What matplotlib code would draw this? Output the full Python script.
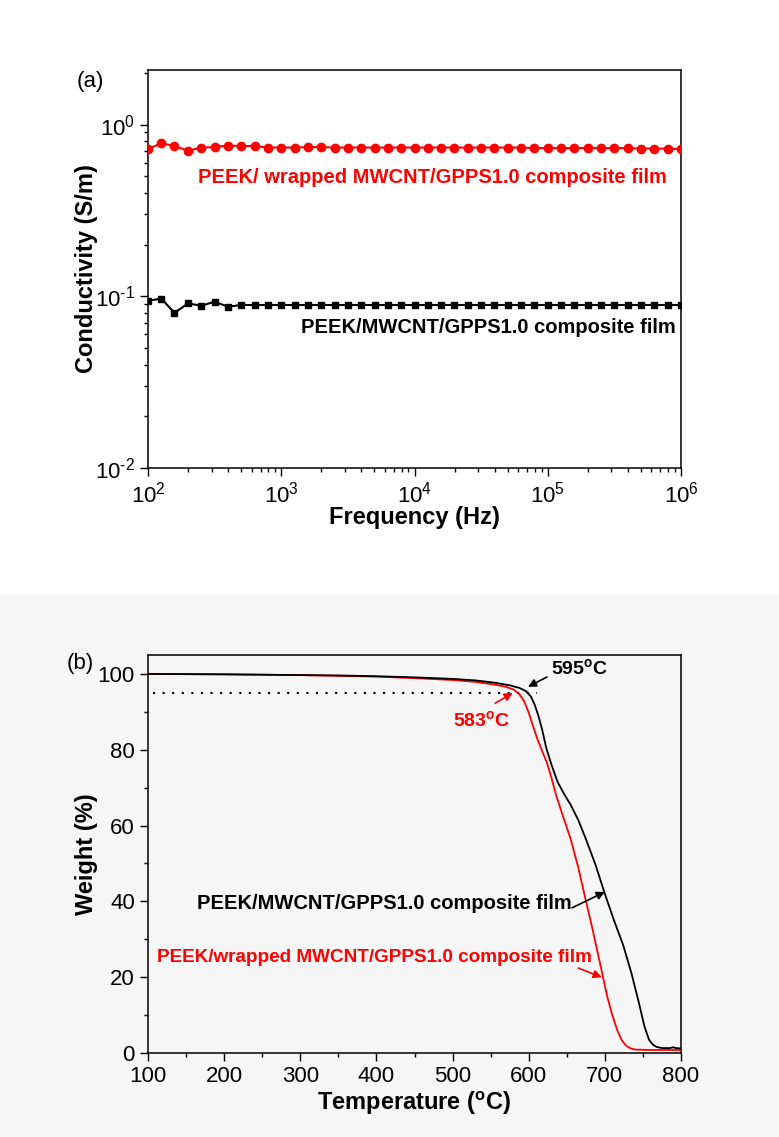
import matplotlib
matplotlib.use('Agg')
import matplotlib.pyplot as plt
import matplotlib.ticker as ticker
import numpy as np
from matplotlib.patches import Rectangle

plt.rcParams['font.family'] = ['Liberation Sans', 'DejaVu Sans']
plt.rcParams['mathtext.fontset'] = 'custom'
plt.rcParams['mathtext.rm'] = 'Liberation Sans'
plt.rcParams['mathtext.bf'] = 'Liberation Sans:bold'
plt.rcParams['mathtext.it'] = 'Liberation Sans:italic'

# (a) conductivity vs frequency
freq = [100, 126, 158, 200, 251, 316, 398, 501, 631, 794,
        1000, 1259, 1585, 1995, 2512, 3162, 3981, 5012, 6310, 7943,
        10000, 12589, 15849, 19953, 25119, 31623, 39811, 50119, 63096, 79433,
        100000, 125893, 158489, 199526, 251189, 316228, 398107, 501187, 630957, 794328,
        1000000]
cond_wrapped = [0.72, 0.78, 0.75, 0.705, 0.735, 0.74, 0.755, 0.75, 0.75, 0.735,
                0.735, 0.735, 0.74, 0.74, 0.735, 0.735, 0.735, 0.735, 0.735, 0.735,
                0.735, 0.735, 0.735, 0.735, 0.735, 0.735, 0.735, 0.735, 0.735, 0.73,
                0.73, 0.73, 0.73, 0.73, 0.73, 0.73, 0.73, 0.725, 0.725, 0.725,
                0.72]
cond_plain = [0.094, 0.097, 0.080, 0.091, 0.088, 0.093, 0.087, 0.089, 0.089, 0.089,
              0.089, 0.089, 0.089, 0.089, 0.089, 0.089, 0.089, 0.089, 0.089, 0.089,
              0.089, 0.089, 0.089, 0.089, 0.089, 0.089, 0.089, 0.089, 0.089, 0.089,
              0.089, 0.089, 0.089, 0.089, 0.089, 0.089, 0.089, 0.089, 0.089, 0.089,
              0.089]

# (b) TGA curves
temp_plain = [100, 150, 200, 250, 300, 350, 400, 450, 500, 530, 555, 575, 588, 597,
              603, 608, 613, 618, 623, 630, 638, 646, 655, 665, 675, 688, 700, 712,
              724, 735, 745, 752, 758, 763, 768, 775, 785, 790, 793, 800]
weight_plain = [100, 99.95, 99.9, 99.8, 99.7, 99.6, 99.4, 99.1, 98.7, 98.3, 97.7, 97.0,
                96.3, 95.4, 94.0, 91.8, 88.8, 85.0, 80.5, 76.0, 71.5, 68.5, 65.5, 61.5,
                56.5, 49.5, 42.0, 35.0, 28.5, 21.0, 13.0, 7.0, 3.5, 2.2, 1.6, 1.3,
                1.3, 1.5, 1.3, 1.2]
temp_wrapped = [100, 150, 200, 250, 300, 350, 400, 450, 500, 530, 555, 570, 580, 588,
                594, 600, 606, 612, 618, 624, 630, 636, 645, 655, 665, 673, 684, 696,
                703, 709, 716, 722, 728, 734, 740, 760, 800]
weight_wrapped = [100, 99.95, 99.9, 99.8, 99.7, 99.5, 99.3, 98.9, 98.4, 97.9, 97.2,
                  96.6, 95.9, 94.6, 92.8, 89.8, 86.0, 82.5, 79.5, 76.5, 72.5, 68.0,
                  62.5, 56.5, 49.0, 42.0, 32.5, 21.5, 15.0, 10.5, 6.2, 3.4, 1.9, 1.2,
                  0.9, 0.8, 0.8]
onset_level = 95

W, H = 779, 1137
fig = plt.figure(figsize=(W / 100, H / 100), dpi=100)
bg = Rectangle((0, 0), 1, (H - 595) / H, transform=fig.transFigure,
               facecolor='#f6f6f6', edgecolor='none', zorder=-10)
fig.add_artist(bg)

ax_l, ax_w, ax_h = 148 / W, 533 / W, 398 / H
ax1 = fig.add_axes([ax_l, (H - 468) / H, ax_w, ax_h])
ax2 = fig.add_axes([ax_l, (H - 1053) / H, ax_w, ax_h])
ax2.set_facecolor('none')


def style_axes(ax):
    for s in ax.spines.values():
        s.set_linewidth(1.1)
    ax.tick_params(which='both', direction='out', top=False, right=False,
                   labelsize=16, pad=4, width=1)
    ax.tick_params(which='major', length=5.5)
    ax.tick_params(which='minor', length=3)


def pow_label(v, pos):
    e = int(round(np.log10(v)))
    if e < 0:
        return r'$\mathregular{10^{\text{-}%d}}$' % (-e)
    return r'$\mathregular{10^{%d}}$' % e


# ---- panel (a)
ax1.plot(freq, cond_wrapped, '-o', color='#ff0000', lw=1.5, ms=6, zorder=3)
ax1.plot(freq, cond_plain, '-s', color='black', lw=1.5, ms=5, zorder=3)
ax1.set_xscale('log')
ax1.set_yscale('log')
ax1.set_xlim(100, 1e6)
ax1.set_ylim(0.01, 2.08)
ax1.xaxis.set_major_locator(ticker.LogLocator(base=10, numticks=10))
ax1.xaxis.set_minor_locator(ticker.LogLocator(base=10, subs=range(2, 10), numticks=20))
ax1.yaxis.set_major_locator(ticker.LogLocator(base=10, numticks=10))
ax1.yaxis.set_minor_locator(ticker.LogLocator(base=10, subs=range(2, 10), numticks=20))
ax1.xaxis.set_major_formatter(ticker.FuncFormatter(pow_label))
ax1.yaxis.set_major_formatter(ticker.FuncFormatter(pow_label))
ax1.xaxis.set_minor_formatter(ticker.NullFormatter())
ax1.yaxis.set_minor_formatter(ticker.NullFormatter())
style_axes(ax1)
ax1.set_xlabel('Frequency (Hz)', fontsize=17, fontweight='bold')
ax1.set_ylabel('Conductivity (S/m)', fontsize=17, fontweight='bold')
ax1.xaxis.set_label_coords(0.5, -0.095)
ax1.yaxis.set_label_coords(-0.094, 0.5)
ax1.text(237, 0.49, 'PEEK/ wrapped MWCNT/GPPS1.0 composite film', color='#ff0000',
         fontsize=14.5, fontweight='bold', ha='left', va='center')
ax1.text(1400, 0.0655, 'PEEK/MWCNT/GPPS1.0 composite film', color='black',
         fontsize=14.5, fontweight='bold', ha='left', va='center')
fig.text(90 / W, 1 - 82 / H, '(a)', fontsize=16, ha='center', va='center')

# ---- panel (b)
ax2.plot(temp_wrapped, weight_wrapped, color='#ff0000', lw=1.3, zorder=3)
ax2.plot(temp_plain, weight_plain, color='black', lw=1.3, zorder=4)
ax2.plot([107, 611], [onset_level, onset_level], color='black', lw=1.5,
         linestyle=(0, (1, 3.6)), zorder=2)
ax2.set_xlim(100, 800)
ax2.set_ylim(0, 105)
ax2.xaxis.set_major_locator(ticker.MultipleLocator(100))
ax2.xaxis.set_minor_locator(ticker.MultipleLocator(50))
ax2.yaxis.set_major_locator(ticker.MultipleLocator(20))
ax2.yaxis.set_minor_locator(ticker.MultipleLocator(10))
style_axes(ax2)
ax2.set_xlabel(r'Temperature ($^{\mathbf{o}}$C)', fontsize=17, fontweight='bold')
ax2.set_ylabel('Weight (%)', fontsize=17, fontweight='bold')
ax2.xaxis.set_label_coords(0.5, -0.092)
ax2.yaxis.set_label_coords(-0.094, 0.5)
fig.text(80 / W, 1 - 664 / H, '(b)', fontsize=16, ha='center', va='center')

arrow_k = dict(arrowstyle='-|>', color='black', lw=1.2, mutation_scale=12,
               shrinkA=0, shrinkB=0)
arrow_r = dict(arrowstyle='-|>', color='#ff0000', lw=1.2, mutation_scale=12,
               shrinkA=0, shrinkB=0)

ax2.text(666, 101.6, r'595$^{\mathbf{o}}$C', color='black', fontsize=14,
         fontweight='bold', ha='center', va='center')
ax2.annotate('', xy=(599, 96.6), xytext=(624, 99.2), arrowprops=arrow_k)
ax2.text(538, 87.9, r'583$^{\mathbf{o}}$C', color='#ff0000', fontsize=14,
         fontweight='bold', ha='center', va='center')
ax2.annotate('', xy=(579, 95.0), xytext=(556, 92.3), arrowprops=arrow_r)

ax2.text(656, 39.5, 'PEEK/MWCNT/GPPS1.0 composite film', color='black',
         fontsize=14.5, fontweight='bold', ha='right', va='center')
ax2.annotate('', xy=(700, 42.5), xytext=(657, 38.3), arrowprops=arrow_k)
ax2.text(683, 25.3, 'PEEK/wrapped MWCNT/GPPS1.0 composite film', color='#ff0000',
         fontsize=13.6, fontweight='bold', ha='right', va='center')
ax2.annotate('', xy=(696, 20.0), xytext=(665, 22.4), arrowprops=arrow_r)

fig.savefig('out.png', dpi=100)
